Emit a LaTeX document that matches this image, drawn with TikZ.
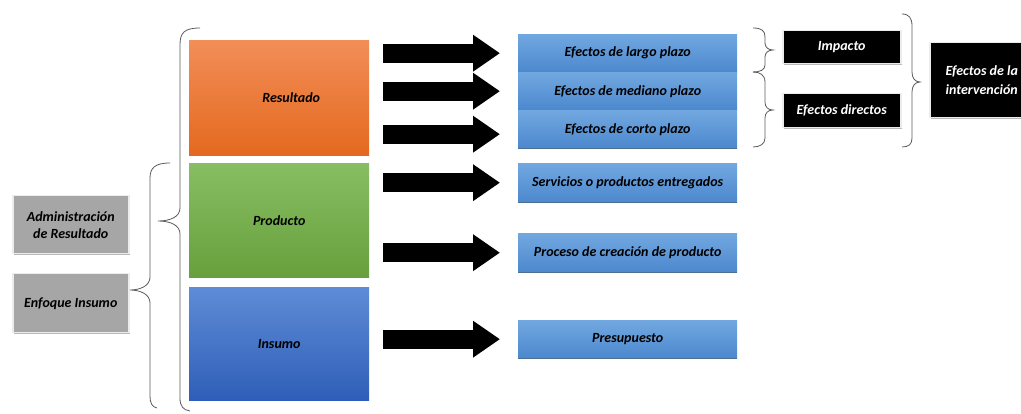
\documentclass[tikz,border=0pt]{standalone}
\usepackage{fontspec}
\setmainfont{Carlito}
\usetikzlibrary{arrows.meta,shadows}
\definecolor{orTop}{HTML}{F28E58}
\definecolor{orBot}{HTML}{E4691F}
\definecolor{grTop}{HTML}{88BE63}
\definecolor{grBot}{HTML}{67A03C}
\definecolor{inTop}{HTML}{5F8CD6}
\definecolor{inBot}{HTML}{2E5EB8}
\definecolor{blTop}{HTML}{72A8E0}
\definecolor{blBot}{HTML}{4C88CE}
\definecolor{blEdge}{HTML}{4D6F8F}
\definecolor{grayBox}{HTML}{A6A6A6}
\definecolor{braceCol}{HTML}{5A5A5A}
\begin{document}
\begin{tikzpicture}[x=1pt,y=-1pt,
  txt/.style={font=\bfseries\itshape\fontsize{14}{17}\selectfont},
  colbox/.style={txt,anchor=north west,inner sep=0pt,minimum width=180pt,minimum height=115pt},
  bluebox/.style={txt,anchor=north west,inner sep=0pt,minimum width=219pt,minimum height=38pt,top color=blTop,bottom color=blBot},
  graybox/.style={txt,anchor=north west,inner sep=0pt,align=center,fill=grayBox,draw=gray!15,line width=1.5pt,
    drop shadow={shadow xshift=1.5pt,shadow yshift=-1.5pt,fill=gray!55,opacity=1}},
  blackbox/.style={txt,text=white,anchor=north west,inner sep=0pt,align=center,fill=black,draw=gray!15,line width=1.5pt,
    drop shadow={shadow xshift=1.5pt,shadow yshift=-1.5pt,fill=gray!55,opacity=1}},
  edge/.style={blEdge,line width=1.2pt},
  blockarrow/.style={line width=19pt,-{Triangle[length=27pt,width=35pt]}},
  brace/.style={draw=braceCol,line width=0.8pt}]
\useasboundingbox (0,0) rectangle (1021,414);

% colored level boxes
\node[colbox,top color=orTop,bottom color=orBot] (res) at (189,40) {\hspace*{24pt}Resultado};
\node[colbox,top color=grTop,bottom color=grBot,minimum height=114pt] (pro) at (189,163) {Producto};
\node[colbox,top color=inTop,bottom color=inBot,minimum height=113pt] (ins) at (189,287) {Insumo};

% blue effect boxes
\node[bluebox] (eL) at (518,34) {Efectos de largo plazo};
\node[bluebox] (eM) at (518,72) {Efectos de mediano plazo};
\node[bluebox] (eC) at (518,110) {Efectos de corto plazo};
\node[bluebox,minimum height=39pt] (serv) at (518,163) {Servicios o productos entregados};
\node[bluebox,minimum height=39pt] (proc) at (518,233) {Proceso de creación de producto};
\node[bluebox,minimum height=38pt] (pres) at (518,320) {Presupuesto};
\foreach \b in {eC,serv,proc,pres}
  \draw[edge] (\b.south west) -- (\b.south east);

% gray approach boxes
\node[graybox,minimum width=116pt,minimum height=58pt] (adm) at (12,195) {Administración\\de Resultado};
\node[graybox,minimum width=116pt,minimum height=59pt] (enf) at (12,273) {Enfoque Insumo};

% black boxes
\node[blackbox,minimum width=118pt,minimum height=33pt] (imp) at (782,30) {Impacto};
\node[blackbox,minimum width=118pt,minimum height=34pt] (dir) at (782,93) {Efectos directos};
\node[blackbox,minimum width=104pt,minimum height=75pt,
  font=\bfseries\itshape\fontsize{14}{19}\selectfont] (int) at (929,42) {Efectos de la\\intervención};

% block arrows
\draw[blockarrow] ([xshift=14pt]res.east |- eL.west) -- ([xshift=-18pt]eL.west);
\draw[blockarrow] ([xshift=14pt]res.east |- eM.west) -- ([xshift=-18pt]eM.west);
\draw[blockarrow] ([xshift=14pt,yshift=-5pt]res.east |- eC.west) -- ([xshift=-18pt,yshift=-5pt]eC.west);
\draw[blockarrow] ([xshift=14pt]pro.east |- serv.west) -- ([xshift=-18pt]serv.west);
\draw[blockarrow] ([xshift=14pt]pro.east |- proc.west) -- ([xshift=-18pt]proc.west);
\draw[blockarrow] ([xshift=14pt]ins.east |- pres.west) -- ([xshift=-18pt]pres.west);

% braces
\draw[brace] (200,28) .. controls (184,28) and (180,33) .. (180,45) -- (180,208)
  .. controls (180,217) and (170,221) .. (158,221) .. controls (170,221) and (180,225) .. (180,234)
  -- (180,398) .. controls (180,406) and (183,410) .. (190,411);
\draw[brace] (170,163) .. controls (155,163) and (150,168) .. (150,178) -- (150,277)
  .. controls (150,286) and (140,290) .. (130,290) .. controls (140,290) and (150,294) .. (150,303)
  -- (150,396) .. controls (150,403) and (152,407) .. (157,408);
\draw[brace] (753,28) .. controls (762,28) and (765,31) .. (765,37) -- (765,43)
  .. controls (765,47) and (768,50) .. (773,50) .. controls (768,50) and (765,53) .. (765,57)
  -- (765,65) .. controls (765,70) and (760,72) .. (753,72);
\draw[brace] (753,72) .. controls (760,72) and (765,75) .. (765,82) -- (765,102)
  .. controls (765,107) and (768,110) .. (773,110) .. controls (768,110) and (765,113) .. (765,118)
  -- (765,138) .. controls (765,144) and (760,147) .. (753,147);
\draw[brace] (902,14) .. controls (909,14) and (912,18) .. (912,26) -- (912,72)
  .. controls (912,78) and (915,82) .. (920,82) .. controls (915,82) and (912,86) .. (912,92)
  -- (912,138) .. controls (912,144) and (909,147) .. (902,147);
\end{tikzpicture}
\end{document}
